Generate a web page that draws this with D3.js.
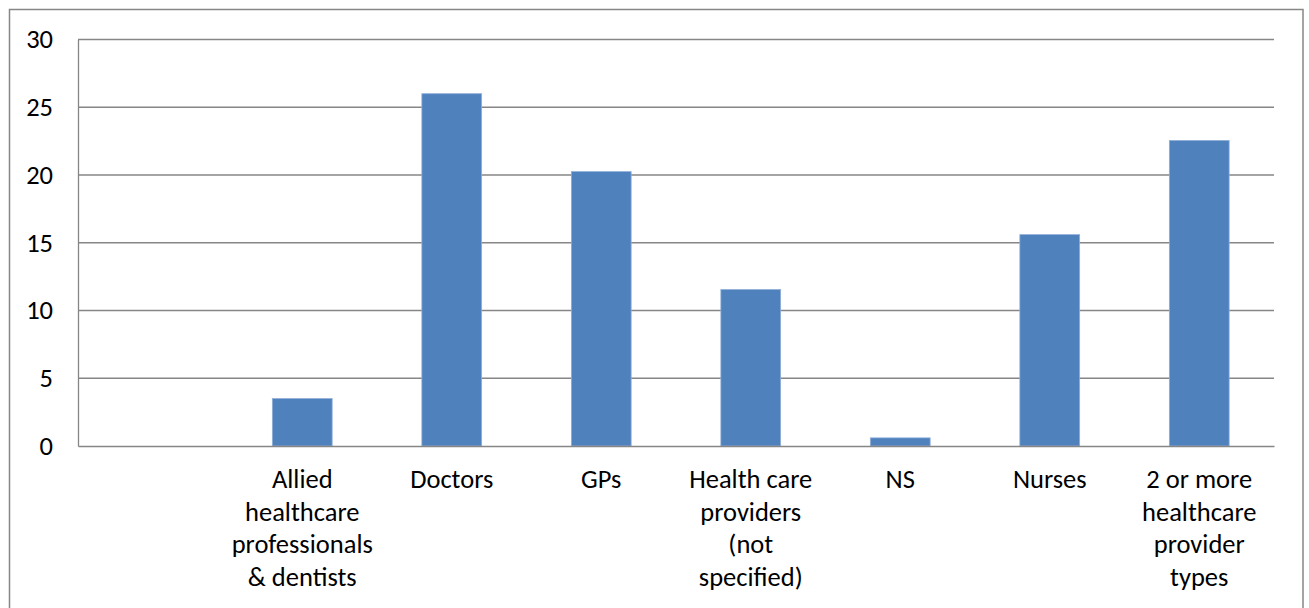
<!DOCTYPE html>
<html>
<head>
<meta charset="utf-8">
<script src="https://cdn.jsdelivr.net/npm/d3@7"></script>
<style>
  html, body { margin: 0; padding: 0; background: #fff; }
  svg { display: block; }
  text { font-family: Calibri, Carlito, Lato, "Liberation Sans", sans-serif; fill: #000; }
</style>
</head>
<body>
<svg id="chart" width="1309" height="608"></svg>
<script>
// Data
const categories = ["", "Allied", "Doctors", "GPs", "HealthCare", "NS", "Nurses", "TwoOrMore"];
const categoryLabels = [
  [],
  ["Allied", "healthcare", "professionals", "& dentists"],
  ["Doctors"],
  ["GPs"],
  ["Health care", "providers", "(not", "specified)"],
  ["NS"],
  ["Nurses"],
  ["2 or more", "healthcare", "provider", "types"]
];
const values = [null, 3.5, 26.0, 20.25, 11.55, 0.6, 15.6, 22.55];
const yTicks = [0, 5, 10, 15, 20, 25, 30];

const svg = d3.select("#chart");
const mLeft = 78, mRight = 1274, mTop = 39.5, mBottom = 446;
const fontSize = 26.5;

// Outer chart border (bottom edge lies outside the picture)
svg.append("rect")
  .attr("x", 9.5).attr("y", 9.5)
  .attr("width", 1303 - 9.5).attr("height", 700)
  .attr("fill", "none").attr("stroke", "#868686").attr("stroke-width", 1.5);

const x = d3.scaleBand().domain(categories).range([mLeft, mRight]).padding(0);
const y = d3.scaleLinear().domain([0, 30]).range([mBottom, mTop]);

// Gridlines
svg.append("g").selectAll("line").data(yTicks.filter(d => d > 0)).join("line")
  .attr("x1", mLeft).attr("x2", mRight)
  .attr("y1", d => y(d)).attr("y2", d => y(d))
  .attr("stroke", "#868686").attr("stroke-width", 1.3);

// Y axis
const yAxis = svg.append("g").attr("transform", `translate(${mLeft},0)`)
  .call(d3.axisLeft(y).tickValues(yTicks).tickSize(0).tickPadding(25).tickFormat(d3.format("d")));
yAxis.select(".domain").attr("stroke", "#868686").attr("stroke-width", 1.3);
yAxis.selectAll("text").attr("font-size", fontSize).attr("fill", "#000")
  .style("font-family", "Calibri, Carlito, Lato, 'Liberation Sans', sans-serif");

// Bars
const barW = x.bandwidth() * 0.4;
svg.append("g").selectAll("rect")
  .data(categories.map((c, i) => ({c, v: values[i]})).filter(d => d.v != null))
  .join("rect")
  .attr("x", d => x(d.c) + (x.bandwidth() - barW) / 2)
  .attr("width", barW)
  .attr("y", d => y(d.v))
  .attr("height", d => y(0) - y(d.v))
  .attr("fill", "#4F81BD")
  .attr("stroke", "#8FAFD9").attr("stroke-width", 0.8);

// X axis
const xAxis = svg.append("g").attr("transform", `translate(0,${mBottom})`)
  .call(d3.axisBottom(x).tickSize(0).tickFormat(""));
xAxis.select(".domain").attr("stroke", "#868686").attr("stroke-width", 1.3);

// Category labels (multi-line)
const lab = svg.append("g");
categories.forEach((c, i) => {
  const cx = x(c) + x.bandwidth() / 2;
  const t = lab.append("text")
    .attr("x", cx)
    .attr("y", 488)
    .attr("text-anchor", "middle")
    .attr("font-size", fontSize);
  categoryLabels[i].forEach((line, j) => {
    t.append("tspan").attr("x", cx).attr("y", 488 + j * 32.5).text(line);
  });
});
</script>
</body>
</html>
